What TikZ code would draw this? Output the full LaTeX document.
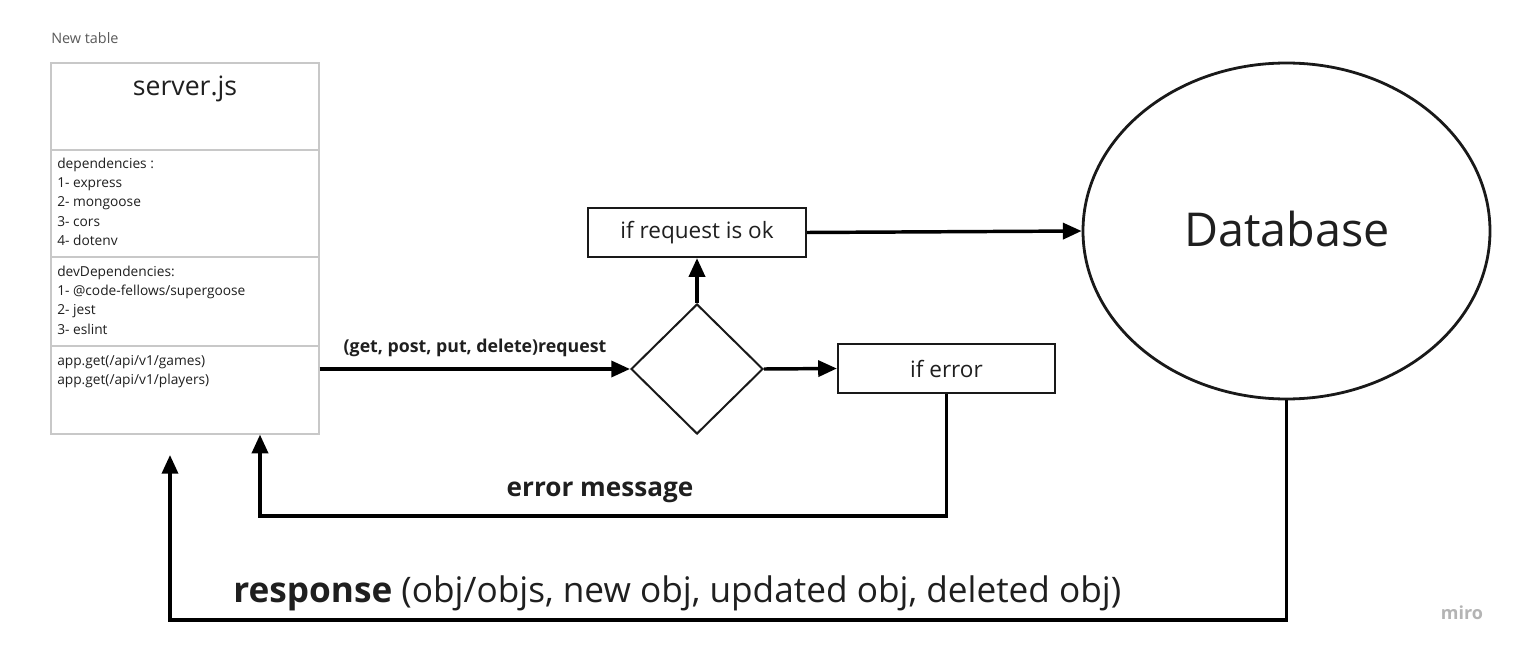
\documentclass[tikz,border=0pt]{standalone}
\usepackage{fontspec}
\setmainfont{Open Sans}
\usetikzlibrary{arrows.meta,shapes.geometric}
\definecolor{txt}{HTML}{1F1F1F}
\definecolor{tblline}{HTML}{C8C8C8}
\definecolor{notegray}{HTML}{5A5A5A}
\definecolor{mirogray}{HTML}{B4B4B4}
\tikzset{
  arr/.style={line width=2.6pt,-{Triangle[length=14pt,width=12pt]}},
  flowbox/.style={draw=black!90,line width=1.7pt,rectangle,inner sep=0pt,
    minimum width=163.5pt,minimum height=36.75pt,font=\fontsize{16.9}{20}\selectfont,text=txt},
  smalltxt/.style={anchor=north west,inner sep=0pt,align=left,text=txt,
    font=\fontsize{10.3}{14.5}\selectfont},
  lbl/.style={inner sep=0pt,text=txt}
}
\begin{document}
\begin{tikzpicture}[x=0.75pt,y=-0.75pt]
\useasboundingbox[fill=white] (0,0) rectangle (1522,656);

% note above the table
\node[lbl,anchor=west,text=notegray,font=\fontsize{10.8}{13}\selectfont] (note) at (51,38) {New table};

% table
\node[draw=tblline,line width=0.9pt,rectangle,inner sep=0pt,
      minimum width=201pt,minimum height=278.25pt] (table) at (185,248.5) {};
\draw[tblline,line width=0.9pt] (table.west |- 0,150) -- (table.east |- 0,150);
\draw[tblline,line width=0.9pt] (table.west |- 0,257) -- (table.east |- 0,257);
\draw[tblline,line width=0.9pt] (table.west |- 0,346) -- (table.east |- 0,346);
\node[lbl,font=\fontsize{20}{24}\selectfont] (title) at (185,89) {server.js};
\node[smalltxt] (deps) at (57,157.5) {dependencies :\\1- express\\2- mongoose\\3- cors\\4- dotenv};
\node[smalltxt] (devdeps) at (57,265.5) {devDependencies:\\1- @code-fellows/supergoose\\2- jest\\3- eslint};
\node[smalltxt] (routes) at (57,355) {app.get(/api/v1/games)\\app.get(/api/v1/players)};

% flow nodes
\node[draw=black!90,line width=1.5pt,diamond,inner sep=0pt,
      minimum width=99pt,minimum height=97.5pt] (dia) at (697,369) {};
\node[flowbox] (ok) at (697,232.5) {if request is ok};
\node[flowbox,minimum width=162.75pt] (err) at (946.5,368.5) {if error};
\node[draw=black!90,line width=2.1pt,ellipse,inner sep=0pt,
      minimum width=305.25pt,minimum height=252pt] (db) at (1286.5,231) {};
\node[lbl,font=\fontsize{35}{42}\selectfont] (dbtext) at (1287,229) {Database};

% connectors
\draw[arr] (table.east |- dia.west) -- (dia.west);
\node[lbl,font=\bfseries\fontsize{13.3}{16}\selectfont] (reqlbl) at (475,348) {(get, post, put, delete)request};
\draw[arr] (dia.north) -- (ok.south);
\draw[arr] (ok.east) -- (db.west);
\draw[arr] (dia.east) -- (err.west);

\coordinate (eb) at (946.5,516);
\coordinate (el) at (260,516);
\draw[arr] (err.south) -- (eb) -- (el) -- (el |- table.south);
\node[lbl,font=\bfseries\fontsize{19.6}{24}\selectfont] (errlbl) at (600,492) {error message};

\coordinate (rb) at (1286.5,620);
\coordinate (rl) at (170,620);
\coordinate (rt) at (170,455);
\draw[arr] (db.south) -- (rb) -- (rl) -- (rt);
\node[lbl,anchor=base west,font=\fontsize{26.4}{30}\selectfont] (resplbl) at (233,602) {\textbf{response} (obj/objs, new obj, updated obj, deleted obj)};

\node[lbl,font=\bfseries\fontsize{13.5}{16}\selectfont,text=mirogray] (miro) at (1462,613) {miro};
\end{tikzpicture}
\end{document}
